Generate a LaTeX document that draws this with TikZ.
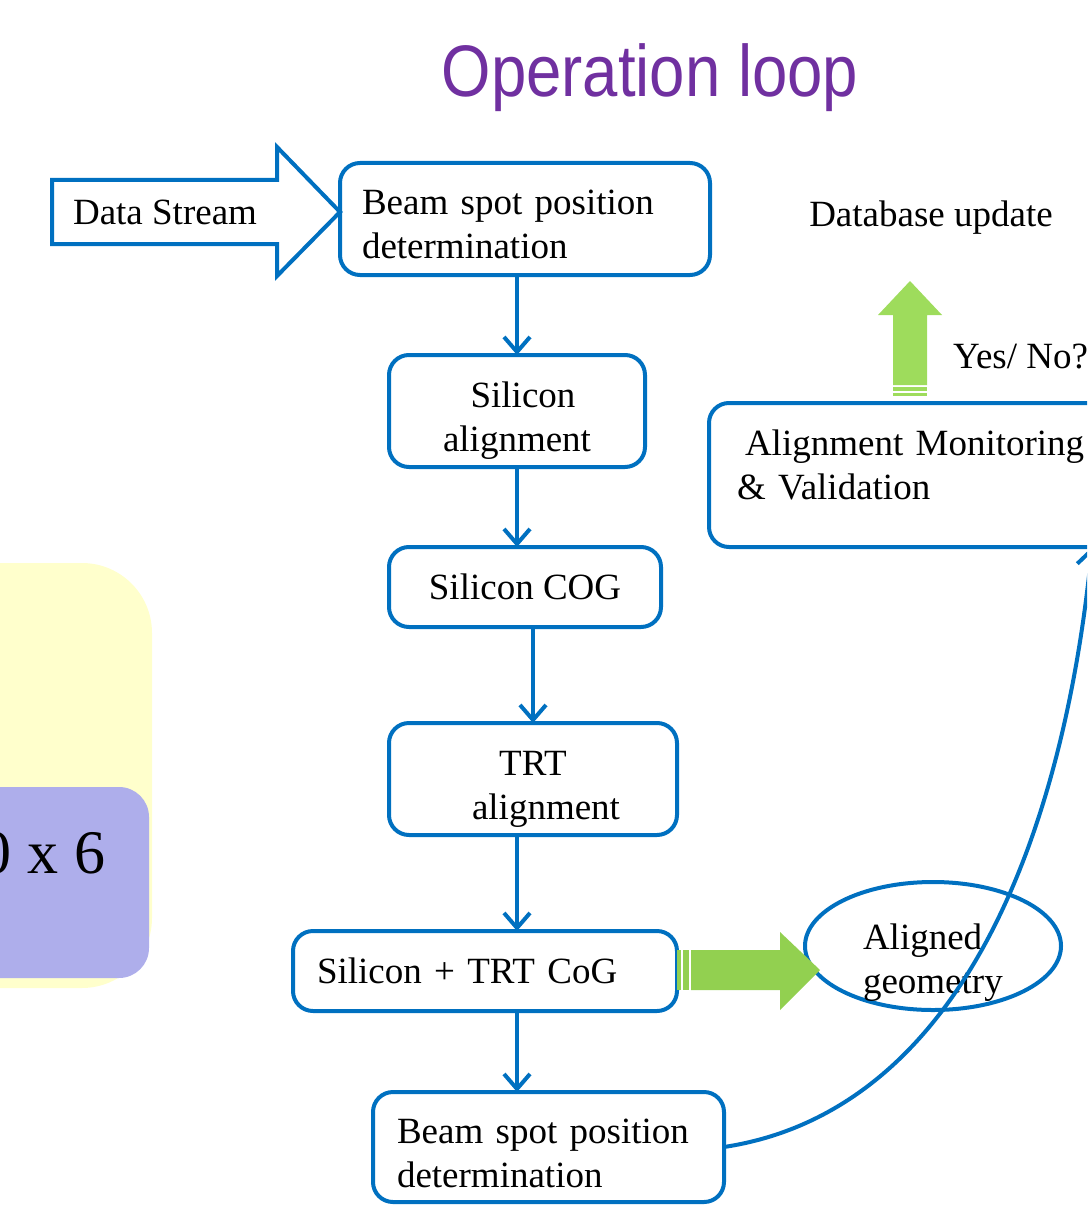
\documentclass[tikz,border=0pt]{standalone}
\usepackage{fontspec}
\setmainfont{Liberation Serif}
\newfontfamily\titlefont{Liberation Sans}
\usetikzlibrary{calc,arrows.meta,shapes.geometric}
\definecolor{loopblue}{HTML}{0070C0}
\definecolor{looppurple}{HTML}{7030A0}
\definecolor{loopgreen}{HTML}{92D050}
\definecolor{uplightgreen}{HTML}{9EDC5C}
\definecolor{noteyellow}{HTML}{FFFFCC}
\definecolor{notelilac}{HTML}{AEAEEB}

\begin{document}
\begin{tikzpicture}[x=1pt,y=-1pt,outer sep=0pt]
\tikzstyle{stage}=[draw=loopblue, line width=4pt, fill=white, rounded corners=20pt,
    inner sep=0pt, font=\fontsize{37}{44}\selectfont]
\tikzstyle{flow}=[draw=loopblue, line width=4pt, -{Straight Barb[length=15pt,width=26pt]}]
\tikzstyle{txt}=[inner sep=0pt, font=\fontsize{37}{44}\selectfont]
\useasboundingbox (0,0) rectangle (1087,1209);
\clip (0,0) rectangle (1087,1209);

% left panels (cut by the frame)
\fill[noteyellow, rounded corners=70pt] (-120,563) rectangle (152,988);
\fill[notelilac, rounded corners=30pt] (-120,787) rectangle (149,978);
\node (dims) [inner sep=0pt, anchor=base east, font=\fontsize{62}{70}\selectfont] at (105,873) {0 x 6};

% title
\node (title) [inner sep=0pt, anchor=base, text=looppurple] at (650,97)
    {\scalebox{0.87}[1]{\titlefont\fontsize{73}{80}\selectfont Operation loop}};

% main chain
\node (b1) [stage, minimum width=370pt, minimum height=112pt, text width=326pt, align=left] at (525,219)
    {\rule{0pt}{36pt}Beam spot position\\determination};
\node (b2) [stage, minimum width=256pt, minimum height=112pt, align=center] at (517,411)
    {\rule{0pt}{45pt}\hspace*{12pt}Silicon\\alignment};
\node (b3) [stage, minimum width=272pt, minimum height=80pt, align=center] at (525,587) {Silicon COG};
\node (b4) [stage, minimum width=288pt, minimum height=112pt, align=center] at (533,779)
    {\rule{0pt}{45pt}TRT\\\hspace*{26pt}alignment};
\node (b5) [stage, minimum width=384pt, minimum height=80pt, text width=336pt, align=left] at (485,971)
    {Silicon + TRT CoG};
\node (b6) [stage, minimum width=351pt, minimum height=110pt, text width=303pt, align=left] at (548.5,1147)
    {\rule{0pt}{37pt}Beam spot position\\determination};
\node (b7) [stage, minimum width=440pt, minimum height=144pt, text width=384pt, align=left] at (929,475)
    {\hspace*{8pt}Alignment Monitoring\\\& Validation\rule[-20pt]{0pt}{1pt}};
\node (geo) [draw=loopblue, line width=4pt, ellipse, minimum width=256pt, minimum height=128pt,
    inner sep=0pt] at (933,946) {};
\node (geotext) [txt, text width=140pt, align=left] at ($(geo.center)+(0,17)$) {Aligned\\geometry};

% data stream arrow
\draw[draw=loopblue, line width=4pt, fill=white, line join=miter]
    (52,180) -- (277,180) -- (277,147) -- ($(b1.west)+(0,-7)$) -- (277,276) -- (277,244) -- (52,244) -- cycle;
\node (stream) [txt, anchor=base] at (165,224) {Data Stream};

% labels on the right
\node (dbup) [txt, anchor=base] at (931,226) {Database update};
\node (yesno) [txt, anchor=base west] at (953,368) {Yes/ No?};

% green arrow to the aligned geometry
\fill[loopgreen] (691,950) -- (780,950) -- (780,932) -- ($(geo.west)+(15,24)$) -- (780,1010) -- (780,990) -- (691,990) -- cycle;
\fill[loopgreen] (677,950) rectangle (681,990);
\fill[loopgreen] (683,950) rectangle (689,990);

% green arrow up to the database
\coordinate (uptip) at (910,281);
\fill[uplightgreen] (893,385) -- (893,315) -- (878,315) -- (uptip) -- (942,315) -- (927,315) -- (927,385) -- cycle;
\fill[uplightgreen] (893,387) rectangle (927,391);
\fill[uplightgreen] (893,393) rectangle (927,396);

% arrows down the chain
\coordinate (c4) at ($(b4.south)+(-16,0)$);
\coordinate (c5) at ($(b5.south)+(32,0)$);
\draw[flow] (b1.south -| b2.north) -- (b2.north);
\draw[flow] (b2.south) -- (b2.south |- b3.north);
\draw[flow] (b3.south -| b4.north) -- (b4.north);
\draw[flow] (c4) -- (c4 |- b5.north);
\draw[flow] (c5) -- (c5 |- b6.north);

% loop back to monitoring
\coordinate (loopend) at ($(b7.south west)+(383,0)$);
\draw[flow] (b6.east) .. controls (954,1112) and (1062,849) .. (loopend);
\end{tikzpicture}
\end{document}
